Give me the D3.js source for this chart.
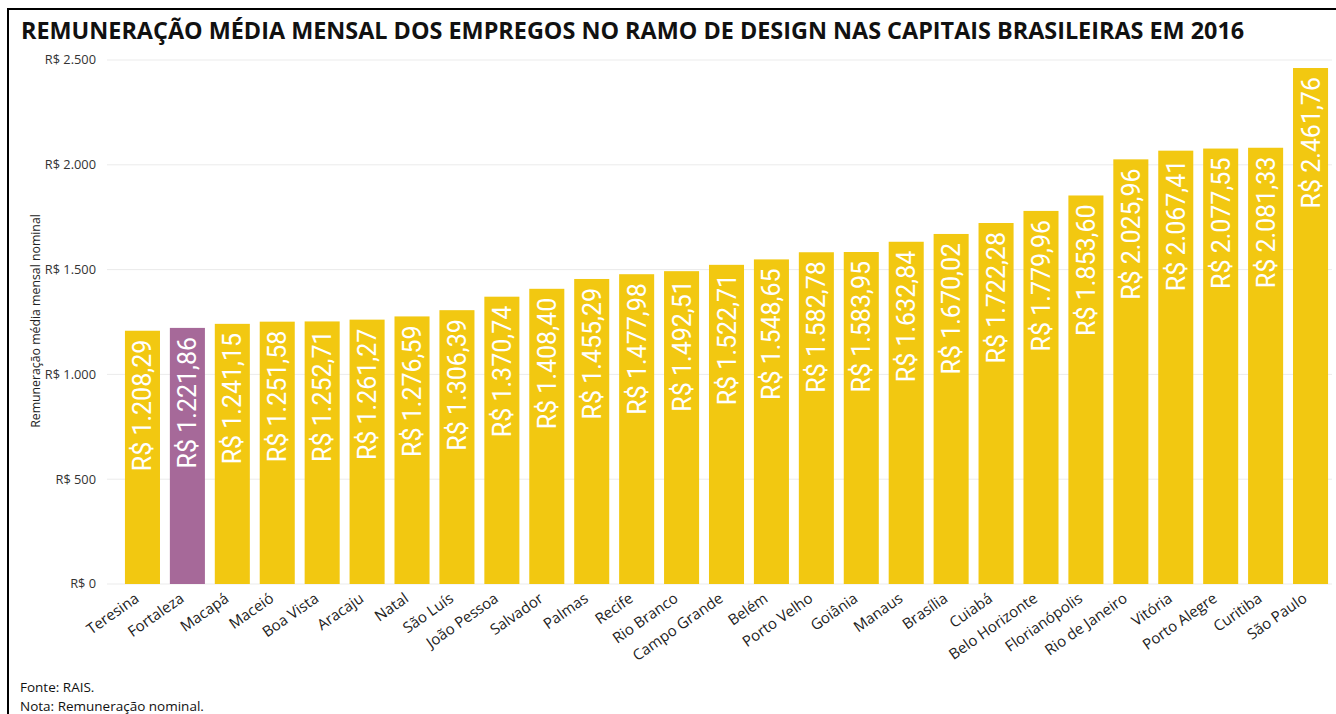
<!DOCTYPE html>
<html>
<head>
<meta charset="utf-8">
<script src="https://cdn.jsdelivr.net/npm/d3@7"></script>
<style>
  body { margin: 0; background: #fff; }
  svg { display: block; }
</style>
</head>
<body>
<svg id="chart" width="1336" height="714"></svg>
<script>
var cities = ["Teresina", "Fortaleza", "Macapá", "Maceió", "Boa Vista", "Aracaju", "Natal", "São Luís", "João Pessoa", "Salvador", "Palmas", "Recife", "Rio Branco", "Campo Grande", "Belém", "Porto Velho", "Goiânia", "Manaus", "Brasília", "Cuiabá", "Belo Horizonte", "Florianópolis", "Rio de Janeiro", "Vitória", "Porto Alegre", "Curitiba", "São Paulo"]
var values = [1208.29, 1221.86, 1241.15, 1251.58, 1252.71, 1261.27, 1276.59, 1306.39, 1370.74, 1408.40, 1455.29, 1477.98, 1492.51, 1522.71, 1548.65, 1582.78, 1583.95, 1632.84, 1670.02, 1722.28, 1779.96, 1853.60, 2025.96, 2067.41, 2077.55, 2081.33, 2461.76]
var highlight = "Fortaleza"
var yTicks = [0, 500, 1000, 1500, 2000, 2500]

var data = cities.map(function(c, i){ return {city: c, value: values[i]} })

var br = d3.formatLocale({decimal: ",", thousands: ".", grouping: [3], currency: ["R$ ", ""]})
function brl(v, dec){
  return "R$ " + br.format(dec ? ",.2f" : ",.0f")(v)
}

var svg = d3.select('svg#chart')

// frame
svg.append('path')
  .attr('d', 'M8,714 V9 H1336')
  .style('fill', 'none')
  .style('stroke', '#000')
  .style('stroke-width', 2)

svg.append('text')
  .attr('x', 21).attr('y', 39)
  .style('font-family', '"Open Sans", sans-serif')
  .style('font-weight', 'bold')
  .style('font-size', '23.4px')
  .style('fill', '#111')
  .text('REMUNERAÇÃO MÉDIA MENSAL DOS EMPREGOS NO RAMO DE DESIGN NAS CAPITAIS BRASILEIRAS EM 2016')

var x = d3.scaleBand()
  .domain(cities)
  .range([120, 1333])
  .paddingInner(0.22)
  .paddingOuter(0.11)

var y = d3.scaleLinear()
  .domain([0, 2500])
  .range([584, 60])

var g = svg.append('g')

// grid
g.selectAll('.grid')
  .data(yTicks)
  .enter()
  .append('line')
  .attr('x1', 107).attr('x2', 1332)
  .attr('y1', function(d){ return y(d) })
  .attr('y2', function(d){ return y(d) })
  .style('stroke', '#ebebeb')
  .style('stroke-width', 1)

g.selectAll('.ytick')
  .data(yTicks)
  .enter()
  .append('text')
  .attr('x', 96)
  .attr('y', function(d){ return y(d) })
  .attr('dy', '0.35em')
  .attr('text-anchor', 'end')
  .style('font-family', '"Open Sans", sans-serif')
  .style('font-size', '12.8px')
  .style('fill', '#333')
  .text(function(d){ return brl(d, false) })

svg.append('text')
  .attr('transform', 'translate(40,321) rotate(-90)')
  .attr('text-anchor', 'middle')
  .style('font-family', '"Open Sans", sans-serif')
  .style('font-size', '12.3px')
  .style('fill', '#222')
  .text('Remuneração média mensal nominal')

g.selectAll('.bar')
  .data(data)
  .enter()
  .append('rect')
  .attr('x', function(d){ return x(d.city) })
  .attr('width', x.bandwidth())
  .attr('y', function(d){ return y(d.value) })
  .attr('height', function(d){ return y(0) - y(d.value) })
  .style('fill', function(d){ return d.city === highlight ? '#a66999' : '#f2c811' })

g.selectAll('.vlabel')
  .data(data)
  .enter()
  .append('text')
  .attr('transform', function(d){
    return 'translate(' + (x(d.city) + x.bandwidth()/2) + ',' + (y(d.value) + 9) + ') rotate(-90)'
  })
  .attr('dy', '0.36em')
  .attr('text-anchor', 'end')
  .style('font-family', 'Roboto, sans-serif')
  .style('font-size', '25px')
  .style('fill', '#fff')
  .text(function(d){ return brl(d.value, true) })

g.selectAll('.xlabel')
  .data(data)
  .enter()
  .append('text')
  .attr('transform', function(d){
    return 'translate(' + (x(d.city) + x.bandwidth()/2 - 5) + ',597) rotate(-35)'
  })
  .attr('text-anchor', 'end')
  .attr('dy', '0.3em')
  .style('font-family', '"Open Sans", sans-serif')
  .style('font-size', '15px')
  .style('fill', '#222')
  .text(function(d){ return d.city })

svg.append('text')
  .attr('x', 20).attr('y', 692)
  .style('font-family', '"Open Sans", sans-serif')
  .style('font-size', '13.5px')
  .style('fill', '#111')
  .text('Fonte: RAIS.')

svg.append('text')
  .attr('x', 20).attr('y', 711)
  .style('font-family', '"Open Sans", sans-serif')
  .style('font-size', '13.5px')
  .style('fill', '#111')
  .text('Nota: Remuneração nominal.')
</script>
</body>
</html>
